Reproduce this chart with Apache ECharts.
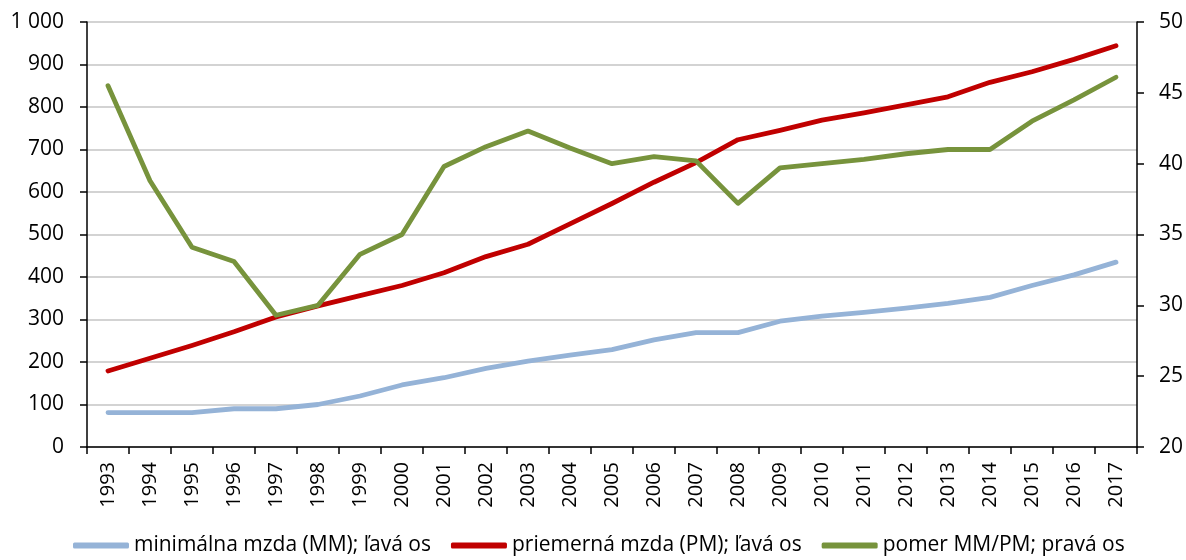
<!DOCTYPE html>
<html>
<head>
<meta charset="utf-8">
<script src="https://cdn.jsdelivr.net/npm/echarts@6/dist/echarts.min.js"></script>
<style>html,body{margin:0;padding:0;background:#fff}#c{width:1186px;height:560px}</style>
</head>
<body>
<div id="c"></div>
<script>
const years = ['1993','1994','1995','1996','1997','1998','1999','2000','2001','2002','2003','2004','2005','2006','2007','2008','2009','2010','2011','2012','2013','2014','2015','2016','2017'];
const minWage = [81,81,81,90,90,100,120,146,163,185,202,216,229,252,269,269,296,308,317,327,338,352,380,405,435];
const avgWage = [179,209,239,271,306,332,356,380,410,448,477,525,573,623,669,723,745,769,786,805,824,858,883,912,944];
const ratio = [45.5,38.8,34.1,33.1,29.3,30.0,33.6,35.0,39.8,41.2,42.3,41.1,40.0,40.5,40.2,37.2,39.7,40.0,40.3,40.7,41.0,41.0,43.0,44.5,46.1];
const names = ['minimálna mzda (MM); ľavá os','priemerná mzda (PM); ľavá os','pomer MM/PM; pravá os'];
const colors = ['#95b3d7','#c00000','#77933c'];

const font = '"Open Sans", "Noto Sans", sans-serif';
const chart = echarts.init(document.getElementById('c'));
function mk(i, data, yIdx){
  return {name:names[i], type:'line', data:data, yAxisIndex:yIdx, symbol:'none', smooth:false,
    lineStyle:{color:colors[i], width:4.8, cap:'round', join:'round'}, itemStyle:{color:colors[i]}, z: 3+i};
}
chart.setOption({
  animation:false,
  textStyle:{fontFamily:font},
  grid:{left:87, right:47, top:22, bottom:113, containLabel:false},
  legend:{top:535, left:73, padding:0, icon:'roundRect', itemWidth:56, itemHeight:6, itemGap:20,
    textStyle:{fontFamily:font, fontSize:21, color:'#000'}, data:names},
  xAxis:{type:'category', data:years, boundaryGap:true,
    axisLine:{lineStyle:{color:'#000', width:1.5}},
    axisTick:{show:true, length:7, lineStyle:{color:'#000', width:1.5}},
    axisLabel:{rotate:90, fontSize:20, color:'#000', fontFamily:font, margin:15, interval:0}},
  yAxis:[
    {type:'value', min:0, max:1000, interval:100, position:'left',
      axisLine:{show:true, lineStyle:{color:'#000', width:1.5}},
      axisTick:{show:true, length:7, lineStyle:{color:'#000', width:1.5}},
      axisLabel:{fontSize:21, color:'#000', fontFamily:font, margin:23,
        formatter:v=> v>=1000 ? String(v).replace(/\B(?=(\d{3})+(?!\d))/g,' ') : String(v)},
      splitLine:{show:true, lineStyle:{color:'#c4c4c4', width:1.5}}},
    {type:'value', min:20, max:50, interval:5, position:'right',
      axisLine:{show:true, lineStyle:{color:'#000', width:1.5}},
      axisTick:{show:true, length:7, lineStyle:{color:'#000', width:1.5}},
      axisLabel:{fontSize:21, color:'#000', fontFamily:font, margin:22},
      splitLine:{show:false}}
  ],
  series:[mk(0,minWage,0), mk(1,avgWage,0), mk(2,ratio,1)]
});
</script>
</body>
</html>
